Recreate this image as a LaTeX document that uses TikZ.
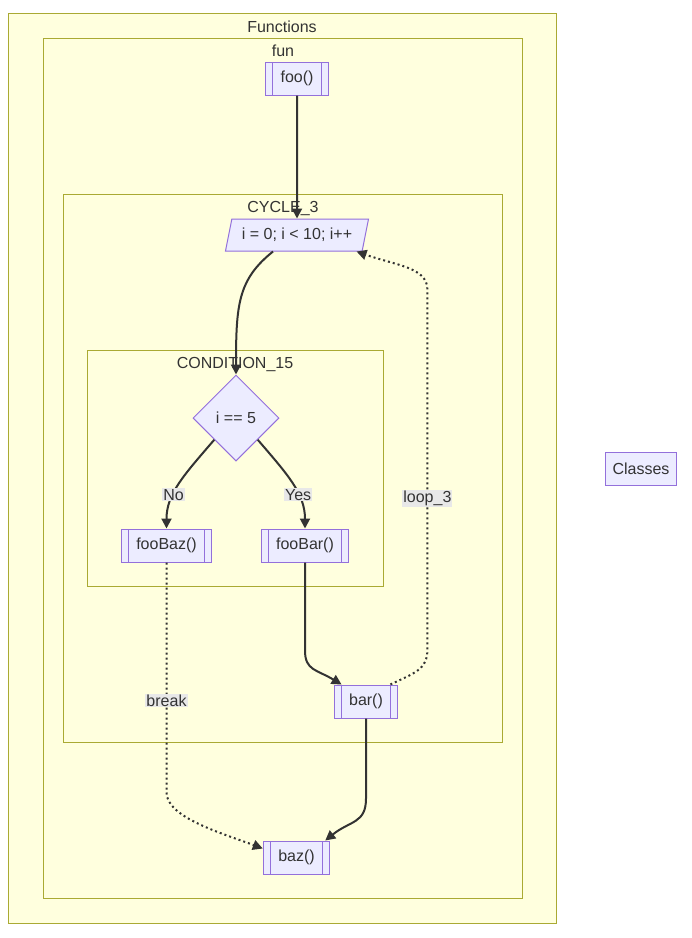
\documentclass[tikz,border=0pt]{standalone}
\usepackage{fontspec}
\setmainfont{Liberation Sans}
\usetikzlibrary{arrows.meta,shapes.geometric}
\definecolor{clfill}{HTML}{FFFFDE}
\definecolor{clline}{HTML}{AAAA33}
\definecolor{ndfill}{HTML}{ECECFF}
\definecolor{ndline}{HTML}{9370DB}
\definecolor{txt}{HTML}{333333}
\definecolor{lblbg}{HTML}{E8E8E8}
\tikzset{
  cluster/.style={draw=clline,fill=clfill,line width=1pt},
  cltitle/.style={text=txt,inner sep=0pt},
  box/.style={draw=ndline,fill=ndfill,line width=1pt,text=txt,minimum height=33pt,inner xsep=7.5pt,inner ysep=0pt},
  subr/.style={box,inner xsep=15pt,path picture={
    \draw[ndline,line width=1pt]
      ([xshift=7pt]path picture bounding box.north west)--([xshift=7pt]path picture bounding box.south west)
      ([xshift=-7pt]path picture bounding box.north east)--([xshift=-7pt]path picture bounding box.south east);}},
  loopbox/.style={box,trapezium,trapezium left angle=65,trapezium right angle=115,trapezium stretches body,inner xsep=10pt,minimum height=32pt},
  decide/.style={box,diamond,minimum width=86pt,minimum height=86pt,inner sep=0pt},
  edge/.style={draw=txt,line width=2pt,-{Triangle[length=10pt,width=10pt]}},
  dotedge/.style={edge,dash pattern=on 2pt off 3pt},
  elabel/.style={fill=lblbg,text=txt,inner sep=1pt}
}
\begin{document}
\begin{tikzpicture}[x=1pt,y=-1pt,font=\fontsize{16}{19}\selectfont]
\useasboundingbox (0,0) rectangle (692,938);
\draw[cluster] (8,13) rectangle (556,923);
\node[cltitle] (tfunctions) at (282,27) {Functions};
\draw[cluster] (43,38) rectangle (522,898);
\node[cltitle] (tfun) at (283,51) {fun};
\draw[cluster] (63,194) rectangle (502,742);
\node[cltitle] (tcycle) at (283,208) {CYCLE\_3};
\draw[cluster] (87,350) rectangle (383,586);
\node[cltitle] (tcond) at (235,364) {CONDITION\_15};

\node[subr] (foo) at (297,78.5) {foo()};
\node[loopbox] (loop) at (297,235) {i = 0; i < 10; i++};
\node[decide] (cond) at (236,418) {i == 5};
\node[subr] (foobaz) at (166.5,545.5) {fooBaz()};
\node[subr] (foobar) at (305,545.5) {fooBar()};
\node[subr] (bar) at (366,701.5) {bar()};
\node[subr] (baz) at (296.5,857.5) {baz()};
\node[box] (classes) at (641,468.5) {Classes};

\draw[edge] (foo.south) -- (loop.north);
\draw[edge] ([xshift=-24pt]loop.south) .. controls +(-35,28) and +(0,-70) .. (cond.north);
\draw[edge] (cond.south west) .. controls +(-30,35) and +(0,-35) .. node[elabel,pos=0.63] (lno) {No} (foobaz.north);
\draw[edge] (cond.south east) .. controls +(30,35) and +(0,-35) .. node[elabel,pos=0.63] (lyes) {Yes} (foobar.north);
\draw[dotedge] (foobaz.south) -- node[elabel,pos=0.6] (lbreak) {break} ++(0,230)
  .. controls +(0,25) and +(-40,-15) .. ([yshift=9pt]baz.west);
\draw[edge] (foobar.south) -- ++(0,88) .. controls +(0,20) and +(-25,-15) .. ([xshift=8pt]bar.north west);
\draw[edge] (bar.south) -- ++(0,80) .. controls +(0,25) and +(25,-20) .. ([xshift=-5pt]baz.north east);
\draw[dotedge] ([xshift=-8pt]bar.north east) .. controls +(25,-12) and +(0,20) .. ++(37,-35)
  -- node[elabel,pos=0.42] (lloop) {loop\_3} ++(0,-360)
  .. controls +(0,-22) and +(40,14) .. ([xshift=-6pt]loop.bottom right corner);
\end{tikzpicture}
\end{document}
